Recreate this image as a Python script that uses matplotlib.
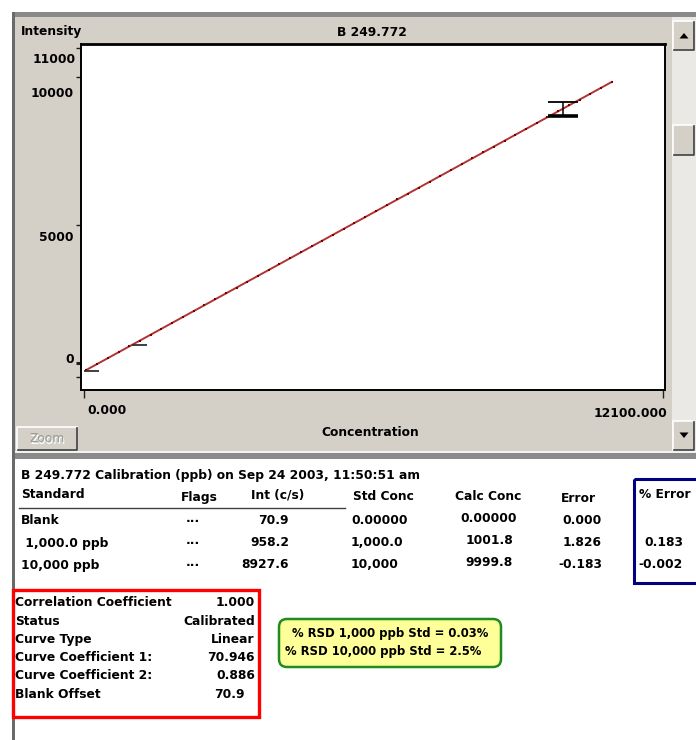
import numpy as np
import matplotlib
matplotlib.use("Agg")
import matplotlib.pyplot as plt
from matplotlib.patches import Rectangle, FancyBboxPatch, Polygon

# calibration results for B 249.772
line_name = "B 249.772"
run_info = "B 249.772 Calibration (ppb) on Sep 24 2003, 11:50:51 am"
standards = ["Blank", " 1,000.0 ppb", "10,000 ppb"]
std_conc = [0.0, 1000.0, 10000.0]
intensity = [70.9, 958.2, 8927.6]
flags = ["...", "...", "..."]
std_conc_text = ["0.00000", "1,000.0", "10,000"]
calc_conc_text = ["0.00000", "1001.8", "9999.8"]
error_text = ["0.000", "1.826", "-0.183"]
pct_error_text = ["", "0.183", "-0.002"]

coef1 = 70.946
coef2 = 0.886
summary_labels = ["Correlation Coefficient", "Status", "Curve Type",
                  "Curve Coefficient 1:", "Curve Coefficient 2:", "Blank Offset"]
summary_values = ["1.000", "Calibrated", "Linear", "70.946", "0.886", "70.9"]
rsd_names = ["1,000 ppb", "10,000 ppb"]
rsd_pct = [0.03, 2.5]

y_ticks = [5000, 10000, 11000]
y_minor = [-125, 350]
x_ticks = [0, 12100]
curve_range = [50, 11030]

FONT = dict(family="DejaVu Sans", fontweight="bold", fontsize=8.8, color="black")
FACE = "#d4d0c8"

fig = plt.figure(figsize=(6.96, 7.40), dpi=100)
bg = fig.add_axes([0, 0, 1, 1])
bg.set_xlim(0, 696)
bg.set_ylim(740, 0)
bg.axis("off")


def txt(x, y, s, ha="left", **kw):
    style = dict(FONT)
    style.update(kw)
    bg.text(x, y, s, ha=ha, va="center", **style)


def button(x0, y0, x1, y1):
    bg.add_patch(Rectangle((x0, y0), x1 - x0, y1 - y0, fc=FACE, ec="none"))
    bg.plot([x0, x0, x1], [y1, y0, y0], color="white", lw=1.2)
    bg.plot([x0 + 1, x1, x1], [y1, y1, y0 + 1], color="#404040", lw=1.2)


# window frame
bg.add_patch(Rectangle((15, 17), 681, 435, fc=FACE, ec="none"))
bg.add_patch(Rectangle((12, 12), 684, 5, fc="#8a8a8a", ec="none"))
bg.add_patch(Rectangle((12, 12), 3, 728, fc="#6a6a6a", ec="none"))
bg.add_patch(Rectangle((15, 451), 681, 2, fc="#f2f2f2", ec="none"))
bg.add_patch(Rectangle((15, 453), 681, 6, fc="#8a8a8a", ec="none"))

# scrollbar
bg.add_patch(Rectangle((672, 17), 24, 434, fc="#ebe9e5", ec="none"))
button(673, 21, 694, 50)
button(673, 125, 694, 155)
button(673, 421, 694, 450)
bg.add_patch(Polygon([(679.5, 38.5), (688.5, 38.5), (684, 33)], fc="black", ec="none"))
bg.add_patch(Polygon([(679.5, 432.5), (688.5, 432.5), (684, 438)], fc="black", ec="none"))

# zoom button (disabled)
button(17, 427, 77, 450)
txt(48, 440, "Zoom", ha="center", color="white", fontweight="normal")
txt(47, 439, "Zoom", ha="center", color="#9a9a9a", fontweight="normal")

# chart captions
txt(21, 31, "Intensity")
txt(372, 32, line_name, ha="center")
txt(370, 433, "Concentration", ha="center")

# calibration plot
ax = fig.add_axes([81 / 696, 1 - 390 / 740, 584 / 696, 346 / 740])
ax.set_facecolor("white")
ax.set_xlim(-63, 12142)
ax.set_ylim(-564, 11125)
for sp in ax.spines.values():
    sp.set_color("black")
    sp.set_linewidth(1.4)
ax.spines["top"].set_linewidth(2)

cx = np.linspace(curve_range[0], curve_range[1], 50)
cy = coef1 + coef2 * cx
ax.plot(cx, cy, color="#a81c1c", lw=1.4, alpha=0.9, zorder=3)
ax.plot(cx, cy, ls="none", marker="s", ms=1.8, mew=0, color="#7a0000", zorder=4)

# standards: short ticks to the right of each point, error bar on the top standard
seg = 313
ax.hlines(intensity[:2], std_conc[:2], np.array(std_conc[:2]) + seg,
          color="#303030", lw=1.3, zorder=5)
eb = ax.errorbar(std_conc[2], intensity[2], yerr=intensity[2] * rsd_pct[1] / 100,
                 fmt="none", ecolor="black", elinewidth=1.1, capsize=10.8,
                 capthick=1.3, zorder=5)
eb[1][0].set_markeredgewidth(2.6)

ax.set_yticks(y_ticks)
ax.set_yticks(y_minor, minor=True)
ax.set_xticks(x_ticks)
ax.set_xticklabels([])
ax.set_yticklabels([])
ax.tick_params(axis="y", which="both", direction="out", length=3.6, width=1,
               color="#202020")
ax.tick_params(axis="x", direction="out", length=5.5, width=1, color="#202020")
ax.yaxis.get_minor_ticks()[1].tick1line.set_markeredgewidth(2.2)

y_label_pos = [(11000, "11000", -5, -12), (10000, "10000", -7, -16),
               (5000, "5000", -7, -12), (0, "0", -7, 14)]
for val, s, dx, dy in y_label_pos:
    ax.annotate(s, xy=(0, val), xycoords=("axes fraction", "data"),
                xytext=(dx, dy), textcoords="offset pixels",
                ha="right", va="center", **FONT)
ax.annotate("0.000", xy=(x_ticks[0], 0), xycoords=("data", "axes fraction"),
            xytext=(3, -21), textcoords="offset pixels", ha="left", va="center", **FONT)
ax.annotate("12100.000", xy=(x_ticks[1], 0), xycoords=("data", "axes fraction"),
            xytext=(4, -24), textcoords="offset pixels", ha="right", va="center", **FONT)

# results table
txt(21, 475, run_info)
txt(21, 494, "Standard")
txt(199, 497, "Flags", ha="center")
txt(278, 495, "Int (c/s)", ha="center")
txt(383, 497, "Std Conc", ha="center")
txt(488, 497, "Calc Conc", ha="center")
txt(578, 498, "Error", ha="center")
txt(665, 494, "% Error", ha="center")
bg.plot([19, 345], [507.5, 507.5], color="#404040", lw=1)

row_y = [520, 543, 565]
for i, y in enumerate(row_y):
    txt(21, y, standards[i])
    txt(193, y - 2, flags[i], ha="center")
    txt(289, y, f"{intensity[i]:.1f}", ha="right")
    txt(351, y, std_conc_text[i])
    txt(489, y - 2, calc_conc_text[i], ha="center")
    txt(602, y, error_text[i], ha="right")
    txt(683, y, pct_error_text[i], ha="right")

bg.add_patch(Rectangle((634, 479), 80, 104, fc="none", ec="#000080", lw=2.2))

# curve summary
bg.add_patch(Rectangle((13, 590), 246, 127, fc="none", ec="#ff0000", lw=2.4))
for i, (lab, val) in enumerate(zip(summary_labels, summary_values)):
    y = 603 + i * 18.2
    txt(15, y, lab)
    txt(255 if i != 5 else 245, y, val, ha="right")

# RSD note
bg.add_patch(FancyBboxPatch((279, 619), 222, 48, boxstyle="round,pad=0,rounding_size=8",
                            fc="#ffff99", ec="#1e8c1e", lw=1.8))
txt(292, 633, f"% RSD {rsd_names[0]} Std = {rsd_pct[0]:.2f}%", fontsize=8.4)
txt(285, 652, f"% RSD {rsd_names[1]} Std = {rsd_pct[1]:.1f}%", fontsize=8.4)

fig.savefig("out.png", dpi=100, facecolor="white")
